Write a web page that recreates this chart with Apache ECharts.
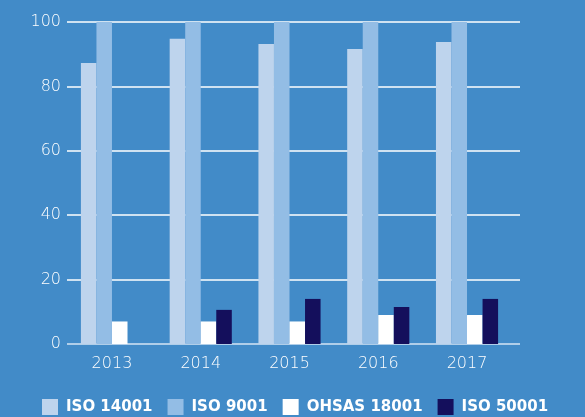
<!DOCTYPE html>
<html>
<head>
<meta charset="utf-8">
<style>
  html, body { margin: 0; padding: 0; background: #428bc8; }
  #chart { width: 585px; height: 417px; }
</style>
<script src="https://cdn.jsdelivr.net/npm/echarts@6/dist/echarts.min.js"></script>
</head>
<body>
<div id="chart"></div>
<script>
// Certification share per year (%)
const years = ['2013', '2014', '2015', '2016', '2017'];
const iso14001 = [87.3, 94.8, 93.2, 91.6, 93.8];
const iso9001 = [100, 100, 100, 100, 100];
const ohsas18001 = [7, 7, 7, 9, 9];
const iso50001 = [0, 10.6, 14, 11.5, 14];
const yTicks = [0, 20, 40, 60, 80, 100];

const seriesNames = ['ISO 14001', 'ISO 9001', 'OHSAS 18001', 'ISO 50001'];
const seriesColors = ['#bed4ed', '#93bde5', '#ffffff', '#140f5c'];
const seriesData = [iso14001, iso9001, ohsas18001, iso50001];

const labelFont = 'DejaVu Sans';
const chart = echarts.init(document.getElementById('chart'));

chart.setOption({
  backgroundColor: '#428bc8',
  animation: false,
  legend: {
    data: seriesNames,
    left: 37,
    top: 394,
    itemWidth: 16,
    itemHeight: 16,
    itemGap: 15,
    icon: 'rect',
    textStyle: {
      color: '#ffffff',
      fontFamily: labelFont,
      fontWeight: 'bold',
      fontSize: 15,
      padding: [0, 0, 0, 3]
    }
  },
  grid: [
    // bars
    { left: 67.6, right: 73.6, top: 22, bottom: 73 },
    // value scale and gridlines, reaching a little further right
    { left: 67, right: 65, top: 22, bottom: 73 }
  ],
  xAxis: [
    {
      type: 'category',
      gridIndex: 0,
      data: years,
      axisLine: { show: false },
      axisTick: { show: false },
      axisLabel: {
        color: '#ffffff',
        fontFamily: labelFont,
        fontWeight: 300,
        fontSize: 16,
        margin: 12
      }
    },
    {
      type: 'value',
      gridIndex: 1,
      show: false,
      min: 0,
      max: 1
    }
  ],
  yAxis: [
    {
      type: 'value',
      gridIndex: 0,
      min: 0,
      max: 100,
      interval: 20,
      show: false
    },
    {
      type: 'value',
      gridIndex: 1,
      min: yTicks[0],
      max: yTicks[yTicks.length - 1],
      interval: yTicks[1] - yTicks[0],
      axisLine: { show: false },
      axisTick: { show: false },
      axisLabel: {
        color: '#ffffff',
        fontFamily: labelFont,
        fontWeight: 300,
        fontSize: 16,
        margin: 6
      },
      splitLine: {
        lineStyle: {
          color: ['#d6e5f4', '#ffffff', '#ffffff', '#ffffff', '#ffffff', '#ffffff'],
          width: 1.5
        }
      }
    }
  ],
  series: seriesNames.map((name, i) => ({
    name: name,
    type: 'bar',
    xAxisIndex: 0,
    yAxisIndex: 0,
    data: seriesData[i],
    barGap: '0%',
    barCategoryGap: '30%',
    itemStyle: { color: seriesColors[i] },
    z: 3
  }))
});
</script>
</body>
</html>
